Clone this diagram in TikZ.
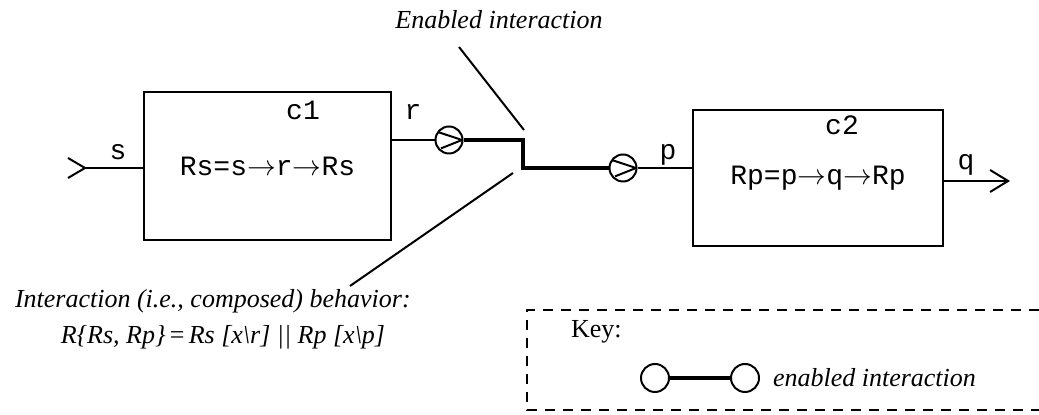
\documentclass[tikz,border=0pt]{standalone}
\usepackage{fontspec}
\setmainfont{Liberation Serif}
\setmonofont{Liberation Mono}
\usetikzlibrary{arrows.meta}

\tikzset{
  comp/.style={draw, line width=1pt, minimum width=123.5pt, minimum height=74pt, inner sep=0pt, font=\fontsize{14}{16}\selectfont\ttfamily},
  tag/.style={inner sep=1pt, font=\fontsize{14}{16}\selectfont\ttfamily},
  note/.style={inner sep=1pt, font=\fontsize{13}{15}\selectfont\itshape},
  port/.style={circle, draw, line width=1pt, minimum size=13.5pt, inner sep=0pt,
    path picture={\draw[line width=1pt] ([shift={(-5.6pt,4pt)}]path picture bounding box.center) -- ([xshift=6.5pt]path picture bounding box.center) -- ([shift={(-4pt,-4.2pt)}]path picture bounding box.center);}},
  keyport/.style={circle, draw, line width=1pt, minimum size=14pt, inner sep=0pt},
  wire/.style={line width=1pt},
  fatwire/.style={line width=1.6pt}
}

\begin{document}
\begin{tikzpicture}[x=0.5pt, y=-0.5pt, line width=1pt]
\useasboundingbox (0,0) rectangle (1039,415);

\node [comp] (c1) at (267.5,166) {Rs=s$\rightarrow$r$\rightarrow$Rs};
\node [comp, minimum width=125pt, minimum height=68pt] (c2) at (818,178) {Rp=p$\rightarrow$q$\rightarrow$Rp};
\node [tag] (c1name) at (303,110) {c1};
\node [tag] (c2name) at (842,125) {c2};
\node [tag] (sname) at (118,152) {s};
\node [tag] (rname) at (413,112) {r};
\node [tag] (pname) at (668,155) {p};
\node [tag] (qname) at (966,165) {q};

\node [port] (pr) at (449,140) {};
\node [port] (pp) at (623,168) {};
\coordinate (j1) at (523,140);
\coordinate (j2) at (523,168);
\coordinate (sin) at (85,168);
\coordinate (qout) at (1010,181);

\draw[wire] (sin) -- (sin -| c1.west);
\draw[wire] ([shift={(-17,-10)}]sin) -- (sin) -- ([shift={(-17,10)}]sin);
\draw[wire] (c1.east |- pr) -- (pr);
\draw[fatwire] (pr) -- (j1) -- (j2) -- (pp);
\draw[wire] (pp) -- (pp -| c2.west);
\draw[wire, -{Straight Barb[length=9pt,width=11pt]}] (c2.east |- qout) -- (qout);

\node [note] (enab) at (499,20) {Enabled interaction};
\coordinate (enabfoot) at (459,47);
\coordinate (enabtip) at (524,130);
\draw[wire] (enabfoot) -- (enabtip);

\node [note, anchor=west] (behav) at (12,301) {Interaction (i.e., composed) behavior:};
\node [note] (formula) at (223,337) {R\{Rs, Rp\}\,{\upshape=}\,Rs [x\textbackslash r] || Rp [x\textbackslash p]};
\coordinate (behavtip) at (513,173);
\coordinate (behavfoot) at (350,286);
\draw[wire] (behavtip) -- (behavfoot);

\draw[wire, dash pattern=on 5pt off 4pt] (1039,310) -- (527,310) -- (527,410) -- (1039,410);
\node [anchor=west, inner sep=1pt, font=\fontsize{13}{15}\selectfont] (keyname) at (568,332) {Key:};
\node [keyport] (k1) at (655,378) {};
\node [keyport] (k2) at (745,378) {};
\draw[fatwire] (k1) -- (k2);
\node [note, anchor=west] (keytext) at (770,378) {enabled interaction};
\end{tikzpicture}
\end{document}
